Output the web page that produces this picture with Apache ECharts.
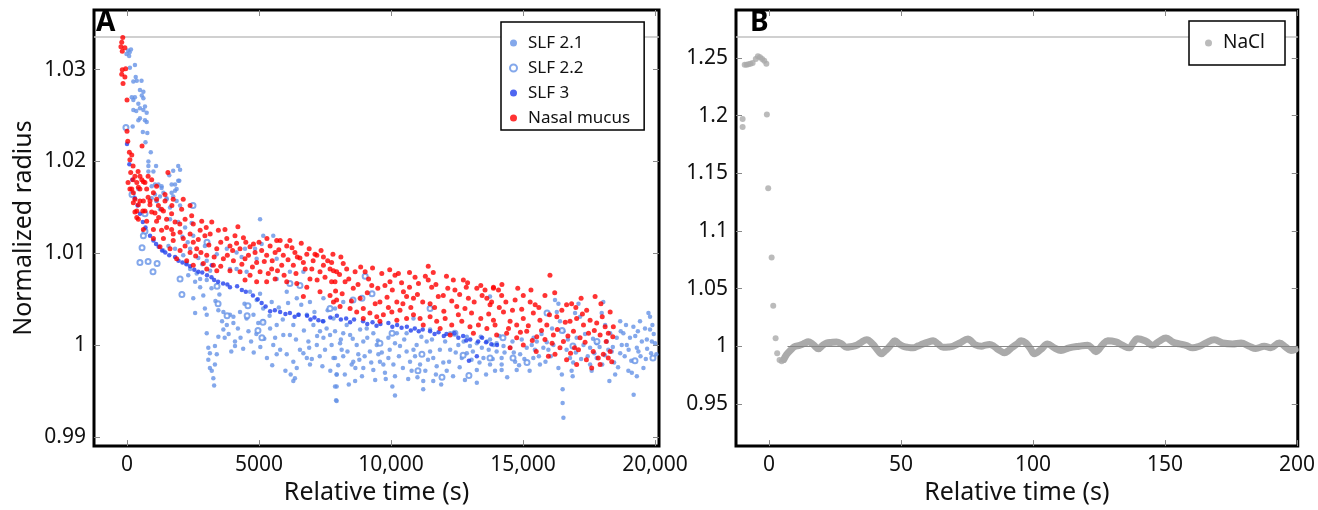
<!DOCTYPE html>
<html><head><meta charset="utf-8">
<script src="https://cdn.jsdelivr.net/npm/echarts@6/dist/echarts.min.js"></script>
<style>html,body{margin:0;padding:0;background:#fff}#c{width:1318px;height:510px}</style>
</head><body><div id="c"></div>
<script>
// ---------- Panel A data: [relative time (s), normalized radius] ----------
const slf21 = [
[40,1.0321],[100,1.0319],[-20,1.0317],[80,1.0315],[110,1.0302],[330,1.0292],[240,1.0287],[370,1.0288],[490,1.0278],[620,1.0276],[560,1.0272],[180,1.027],[300,1.027],[240,1.0267],[620,1.0269],[430,1.0263],[680,1.026],[490,1.0258],[240,1.0256],[620,1.0256],[745,1.0253],[490,1.0247],[680,1.0245],[745,1.0243],[430,1.0245],[215,1.0238],[770,1.0231],[810,1.02],[810,1.0195],[810,1.0189],[1000,1.0189],[1190,1.0175],[1310,1.0173],[1690,1.0166],[1940,1.0195],[2010,1.0191],[1980,1.0179],[1820,1.0175],[1880,1.017],[1750,1.0162],[1380,1.0166],[1500,1.0159],[1120,1.0157],[1250,1.0162],[1060,1.0164],[935,1.0173],[935,1.016],[430,1.017],
[1060,1.0175],[1310,1.0171],[1690,1.0175],[1940,1.0179],[1820,1.0168],[1500,1.016],[1880,1.0157],[1120,1.0157],[1250,1.0148],[1630,1.015],[2010,1.0152],[1630,1.0137],[1940,1.0134],[1380,1.0103],[1570,1.0108],[1820,1.0105],[2130,1.0098],[2260,1.009],[2390,1.0083],[2640,1.0078],[2320,1.0076],[2580,1.0069],[2770,1.0072],[3020,1.0071],[2770,1.0063],[2510,1.0051],[2890,1.0054],[2950,1.004],[3020,1.0033],[2580,1.0035],[3020,1.0013],[3080,0.9997],[3140,0.9991],[3080,0.9984],[3140,0.9975],[3210,0.9972],[3270,0.9964],[3300,0.9956],[3330,0.9999],[3400,0.999],[3330,0.9979],[3460,1.0009],[3650,1.0017],[3780,1.0022],[4030,1.0024],[4090,1.0004],[4090,0.9999],[3900,1.0033],[4030,1.0031],[3650,1.0036],[3460,1.0038],[4280,1.0036],[4530,1.0029],[4790,1.0033],[4970,1.0024],[5160,1.0026],[5040,1.0137],[5420,1.0018],[5670,1.0022],[5610,1.0008],[5920,1.0011],[5540,1.0],[5800,0.9995],[5670,0.999],[6050,0.999],[6300,0.9982],[6430,0.9975],[6360,0.9964],[6300,0.9961],[6680,0.9991],[6810,0.9986],[6930,0.9979],[6870,1.0004],[7190,1.0],[7440,1.0008],[7310,1.0015],[7560,1.0018],[7690,1.0011],[7820,0.9986],[7940,0.9968],[7940,0.9955],[7920,0.994],[7060,1.0022],[7440,1.0026],[6170,1.0011],[6300,1.0022],[6490,1.0033],[6810,1.0033],[5160,1.004],[5480,1.0047],[4910,1.0049],[5040,1.0056],[4660,1.0058],[4340,1.0096],[4470,1.0105],[4910,1.0094],[5100,1.011],[5160,1.0119],[5540,1.0119],[4850,1.0105],[4150,1.0101],[3780,1.0105],[3400,1.0099],[2950,1.0108],[2510,1.0119],[2200,1.0128],[2390,1.0105],[4150,1.0083],[4530,1.008],[3900,1.0083],[3020,1.0092],[5670,1.0094],[6170,1.008],[6680,1.008],[5670,1.0072],[6050,1.0058],[6430,1.0051],[6930,1.0047],[7440,1.0051],[7880,1.004],
[7880,1.0015],[8190,1.0013],[7750,1.0],[8070,1.0002],[8450,1.0011],[8700,1.0],[8950,1.0004],[9330,1.0013],[7880,0.9986],[8190,0.9988],[8570,0.9982],[8510,0.9979],[8950,0.9975],[7940,0.9968],[7880,0.9955],[7940,0.9939],[8640,0.9961],[9330,0.9973],[9520,0.999],[9580,0.9982],[9710,0.9979],[9900,0.9986],[10090,0.9979],[9770,0.997],[10150,0.9966],[10150,0.9945],[9460,1.0],[9900,1.0008],[10220,1.0013],[10340,0.9999],[10590,0.9993],[10720,0.9982],[10780,0.9972],[10910,0.9988],[11100,0.9979],[11220,0.9961],[11220,0.9952],[10970,1.0],[11350,1.0004],[11480,0.9993],[11600,0.9986],[11730,0.9977],[11980,0.9981],[12110,0.9972],[11600,0.9961],[12240,0.9995],[12550,1.0],[12680,0.9986],[12870,0.9991],[12990,0.9999],[13250,1.0002],[13440,0.9997],[13500,0.9986],[13250,0.9973],[13250,0.9959],[13630,1.0004],[13880,1.0],[14000,0.9993],[13750,0.9979],[13940,0.9972],[7820,1.0029],[8320,1.0022],[8190,1.0047],[9080,1.0018],[9200,0.9993],[8130,0.9995],[8760,0.999],[8830,1.0017],[10590,1.0013],[11480,1.0017],[12240,1.0013],[12870,1.0009],[10850,1.0029],
[13750,1.0053],[13750,1.0006],[14000,1.0002],[14260,0.9999],[14190,0.9986],[14190,0.9979],[14190,0.9973],[14700,0.9982],[14760,0.9973],[14890,0.999],[14510,0.9997],[15140,0.9997],[15330,1.0],[15520,1.0004],[15640,0.9979],[15390,0.9986],[15770,0.9997],[15960,0.9995],[16150,1.0],[16210,1.0049],[16340,1.0045],[16280,1.0036],[16400,1.0026],[16530,1.0015],[16340,0.9975],[16470,0.9968],[16500,0.9952],[16500,0.9937],[16530,0.9921],[16780,0.9986],[16840,0.9972],[16880,0.9966],[17100,1.0045],[16970,1.0035],[17160,1.0031],[17030,1.0008],[17290,1.0],[17540,0.9997],[17790,1.0002],[17540,0.9979],[17600,0.9972],[17790,0.9986],[18040,1.0047],[17980,1.0035],[18110,1.0022],[18230,0.9995],[18270,0.9961],[18490,0.9968],[18550,1.0008],[18680,1.0026],[18800,1.0013],[18930,1.0],[19050,1.0008],[19180,1.002],[19310,0.9997],[18990,0.9972],[19120,0.997],[19310,0.9966],[19190,0.9946],[19430,1.0026],[19620,1.0018],[19690,1.0006],[19810,1.0031],[19810,1.0017],[19750,1.0035],[19560,0.9975],[19880,1.0004],[19370,0.9993],[18680,0.9991],[18740,1.0],[18360,0.9993],[18170,1.0004],
[2100,1.0118],[2300,1.0112],[2700,1.0095],[2850,1.0088],[3150,1.0081],[3200,1.0062],[3350,1.0048],[3500,1.0055],[3600,1.0026],[3700,1.0008],[3850,1.0012],[3950,0.9993],[4200,1.0018],[4300,1.0008],[4400,0.9996],[4450,1.0045],[4600,1.0015],[4700,1.0004],[4800,0.9992],[4900,1.0012],[5050,0.9998],[5200,1.0007],[5300,0.9986],[5400,1.0032],[5500,0.9978],[5750,1.0041],[5900,1.0028],[6000,0.9972],[6100,1.0046],[6200,0.9968],[6400,1.0006],[6550,0.9995],[6600,1.0044],[6700,1.0016],[6900,0.9997],[7000,0.9985],[7100,1.0036],[7200,1.001],[7300,0.9988],[7400,0.9977],[7500,0.9995],[7600,1.0038],[7700,0.9972],[8000,0.9978],[8100,1.0006],[8250,0.9968],[8350,0.9993],[8400,0.9957],[8550,1.0007],[8650,0.9975],[8800,0.9984],[8900,0.9966],[9000,0.9988],[9100,1.0008],[9250,0.9981],[9400,0.9962],[9500,1.0005],[9650,0.9992],[9800,0.9963],[9950,0.9995],[10050,0.9955],[10150,1.0002],[10300,0.9988],[10450,0.9975],[10500,1.0006],[10650,0.9963],[10850,0.9995],[11000,0.9965],[11150,1.0009],[11300,0.9972],[11400,0.9984],[11550,1.0006],[11700,0.9968],[11850,0.9995],[11900,0.9957],[12050,1.0004],[12200,0.9982],[12350,0.9966],[12450,0.9992],[12600,0.9976],[12750,1.0004],[12800,0.9962],[13050,0.9984],[13100,0.9993],[13350,0.9981],[13400,1.0009],[13600,0.9968],[13700,0.9995],[13850,0.9985],[14100,1.001],[14300,0.9992],[14400,0.9965],[14600,1.0004],[14650,0.9992],[14850,0.9978],[14950,1.0006],[15050,0.9985],[15250,0.9972],[15400,1.0008],[15450,0.9995],[15600,0.9988],[15700,1.0012],[15850,0.9982],[15900,1.0003],[16050,0.9988],[16100,1.0018],[16650,0.9995],[16700,1.0006],[16900,0.9981],[17000,0.9992],[17200,0.9985],[17350,1.0012],[17450,0.9988],[17650,1.0007],[17700,0.9991],[17900,0.9998],[18000,0.9979],[18100,0.9989],[18300,1.0013],[18400,0.9998],[18450,0.9981],[18600,0.9976],[18700,1.0015],[18850,0.9988],[18900,1.0022],[19000,0.9995],[19100,0.9983],[19250,1.001],[19350,1.0015],[19450,0.9988],[19500,1.0004],[19650,0.9985],[19700,0.9996],[19850,0.9991],[19950,1.0012],[20000,1.0002],[19900,1.0022],[20050,0.999],[2450,1.0133],[1600,1.0185],[1750,1.019],[1100,1.0195],[900,1.021],[600,1.0232],[700,1.0221],[350,1.0255],[550,1.0288],[300,1.0305],[150,1.0322]
];
const slf22 = [
[-40,1.0237],[190,1.0164],[680,1.0143],[680,1.0124],[570,1.0106],[490,1.009],[800,1.0091],[985,1.008],[1140,1.0089],[620,1.0119],[2010,1.0072],[2080,1.0055],[2500,1.0152],[3030,1.0112],[3410,1.0064],[3450,1.0045],[3790,1.0032],[4580,1.0043],[4550,1.0032],[4960,1.0016],[5110,1.0008],[5150,1.0025],[6170,1.0067],[6550,1.0065],[7690,1.004],[9020,1.0075],[8900,1.0051],[9280,1.0056],[8560,1.0049],[9580,1.0002],[10040,1.0013],[11170,0.999],[11020,0.9972],[11930,0.9965],[12420,1.0013],[12730,0.9989],[12950,0.9967],[13750,0.9986],[11480,1.004],[15910,1.0035],[15150,0.9981],[14620,0.9986],[16480,1.0016],[16890,0.9999],[17800,1.0004],[19240,0.9983],[19920,0.9986],[14240,1.0008]
];
const slf3 = [
[0,1.0219],[90,1.0197],[200,1.018],[300,1.016],[400,1.0152],[490,1.0143],[600,1.0134],[700,1.0128],[870,1.0119],[1000,1.0114],[1100,1.011],[1200,1.0107],[1330,1.0103],[1450,1.0101],[1600,1.0098],[1820,1.0096],[1950,1.0092],[2100,1.009],[2250,1.0088],[2390,1.0086],[2550,1.0082],[2700,1.008],[2850,1.0079],[3030,1.0076],[3210,1.0087],[3200,1.0074],[3300,1.0071],[3450,1.0069],[3640,1.0067],[3800,1.0066],[3900,1.0063],[4170,1.0064],[4350,1.006],[4500,1.0058],[4770,1.0054],[4950,1.005],[5100,1.0046],[5250,1.0042],[5420,1.0037],[5600,1.0038],[5800,1.0036],[6000,1.0034],[6170,1.0035],[6350,1.0031],[6500,1.0033],[6820,1.0032],[6950,1.0028],[7100,1.003],[7250,1.0027],[7420,1.0026],[7700,1.003],[7950,1.0032],[8100,1.0028],[8300,1.0029],[8450,1.0025],[8600,1.0028],[8940,1.0026],[9100,1.0023],[9300,1.0025],[9450,1.0021],[9600,1.0023],[9900,1.0024],[10050,1.002],[10230,1.0022],[10400,1.0019],[10600,1.002],[10750,1.0016],[10900,1.0018],[11050,1.0015],[11200,1.0017],[11480,1.0015],[11650,1.0012],[11800,1.0014],[12000,1.001],[12100,1.0012],[12400,1.0013],[12550,1.0008],[12730,1.001],[12850,1.0005],[13000,1.0006],[13300,1.0004],[13450,1.0008],[13600,1.0003],[13800,1.0001],[14015,1.0],[12950,0.9983],[13250,0.9988]
];
const nasal = [
[-160,1.0335],[-200,1.033],[-230,1.0325],[-80,1.0324],[-180,1.032],[-50,1.0301],[-180,1.030],[-200,1.0295],[-80,1.0292],[-150,1.0285],[0,1.0267],[570,1.0217],[0,1.0233],[30,1.0222],[90,1.021],[180,1.0207],[110,1.0202],[230,1.0195],[140,1.0188],[300,1.0184],[420,1.0189],[1550,1.0188],[370,1.0177],[560,1.018],[680,1.0177],[800,1.0184],[935,1.018],[110,1.017],[240,1.0166],[490,1.017],[745,1.017],[1000,1.0166],[300,1.0159],[430,1.0153],[620,1.0157],[870,1.0157],[1120,1.0159],[1440,1.0164],[300,1.0145],[600,1.0146],[935,1.0145],[1310,1.0148],[370,1.0139],
[40,1.0177],[230,1.018],[490,1.0184],[620,1.0178],[180,1.017],[430,1.0172],[1120,1.0173],[240,1.0155],[490,1.0157],[870,1.0153],[1190,1.0152],[1440,1.0157],[1750,1.0159],[2130,1.0159],[370,1.0146],[680,1.0146],[1060,1.0144],[1380,1.0146],[1690,1.0143],[2070,1.0148],[2390,1.0152],[430,1.0137],[745,1.0135],[1120,1.0135],[1500,1.0137],[1820,1.0134],[2200,1.0137],[2510,1.0132],[2830,1.0135],[620,1.0126],[1000,1.0126],[1310,1.0125],[1690,1.0126],[2010,1.0123],[2390,1.0121],[2770,1.0125],[3210,1.0134],[3710,1.0126],[1000,1.0116],[1380,1.0116],[1750,1.0114],[2130,1.0116],[2510,1.0112],[2950,1.0119],[3150,1.0121],[3460,1.0125],[3780,1.0116],[4090,1.0119],[4410,1.0117],[4790,1.011],[1250,1.0107],[1630,1.0105],[2010,1.0103],[2390,1.0101],[2640,1.0105],[3020,1.0098],[3400,1.0105],[3900,1.0108],[4280,1.0105],[4660,1.0107],[5100,1.0103],[5420,1.0108],[5800,1.0114],[6170,1.0114],[1880,1.0094],[2260,1.0092],[2890,1.0089],[3270,1.0087],[3650,1.0094],[4030,1.0092],[4470,1.0094],[4910,1.009],[5290,1.0098],[5610,1.0101],[5920,1.0098],[6360,1.0101],[6810,1.0099],[7190,1.0098],[2510,1.0087],[3020,1.0083],[3400,1.0081],[3900,1.0081],[4280,1.008],[4660,1.0076],[5040,1.008],[5480,1.0083],[5860,1.0087],[6300,1.0087],[6680,1.009],[7000,1.0083],[7440,1.0087],[7690,1.0083],[4470,1.0071],[4910,1.0069],[5290,1.0069],[5610,1.0072],[6050,1.0069],[6430,1.0067],[6810,1.0063],[7310,1.0058],[7690,1.0054],[7940,1.0049],[6680,1.0053],[6930,1.0072],[7310,1.008],[7750,1.0069],[6050,1.0108],[5670,1.0114],[7120,1.0099],[7440,1.0096],[7820,1.0081],
[7750,1.009],[8190,1.0089],[7940,1.008],[8320,1.0083],[8640,1.008],[7880,1.0069],[8260,1.0069],[8570,1.0062],[9020,1.008],[9270,1.0065],[9650,1.0078],[9770,1.0065],[10150,1.0076],[10280,1.0078],[9960,1.0069],[10470,1.0058],[10590,1.0053],[10910,1.0074],[11040,1.0067],[11410,1.0086],[11410,1.0071],[11540,1.0063],[11790,1.0053],[11980,1.0054],[12360,1.0071],[12740,1.0071],[12420,1.006],[12930,1.0051],[13250,1.0062],[13560,1.006],[13880,1.0062],[13630,1.0051],[12490,1.0042],[12800,1.004],[13750,1.0044],[7820,1.0047],[8070,1.0042],[8450,1.004],[8700,1.0036],[8950,1.004],[9200,1.0035],[9460,1.0031],[9710,1.0033],[10030,1.0036],[10340,1.0038],[10590,1.0029],[10850,1.0033],[11100,1.0029],[11480,1.0031],[11730,1.0026],[12050,1.0029],[12300,1.0022],[12680,1.0026],[12990,1.002],[13310,1.0022],[13630,1.0018],[13940,1.0022],[12240,1.0011],[13120,1.0013],[8950,1.0029],[9580,1.0026],[10220,1.0027],[11220,1.0022],[11860,1.0018],[10220,1.0047],[10850,1.0051],[11480,1.0045],[9580,1.0047],[8830,1.0051],
[13880,1.0063],[14070,1.006],[14190,1.0054],[13810,1.0047],[14700,1.0049],[15010,1.0054],[15270,1.0047],[15830,1.0054],[16020,1.0076],[15460,1.0044],[16650,1.0044],[16840,1.0045],[17410,1.0038],[17730,1.0053],[13880,1.0027],[14260,1.0036],[14510,1.0026],[14760,1.0022],[15010,1.0029],[15390,1.0035],[15640,1.0027],[15900,1.0022],[16280,1.0031],[16470,1.0038],[16780,1.0026],[17030,1.0029],[17290,1.0022],[17540,1.0027],[17790,1.0024],[18110,1.002],[18420,1.002],[14000,1.0011],[14380,1.0013],[14760,1.0008],[15140,1.0015],[15520,1.0009],[15830,1.0006],[16150,1.0011],[16530,1.0004],[16910,1.0015],[17160,1.0008],[17480,1.0013],[17920,1.0011],[18230,1.0013],[15960,0.9988],[16210,0.999],[16650,0.9984],[17030,0.9979],[17600,0.9975],[17920,0.9979],[18230,0.9986],[18360,0.9982],[17100,0.9995],[17660,0.9993],[18040,0.999],[16400,0.9997],[15010,1.0],[14510,0.9997],
[1500,1.0128],[1750,1.0121],[2200,1.0108],[2600,1.0097],[2700,1.0115],[3100,1.0109],[3300,1.0096],[3550,1.0112],[3550,1.0086],[3800,1.0098],[4000,1.0103],[4150,1.0111],[4350,1.0088],[4600,1.0098],[4750,1.0085],[4850,1.0101],[5000,1.0112],[5200,1.0091],[5350,1.0078],[5500,1.0092],[5700,1.0081],[5750,1.0104],[5950,1.0076],[6100,1.0093],[6250,1.0106],[6400,1.0078],[6550,1.0095],[6600,1.0111],[6750,1.0083],[6900,1.0105],[7050,1.0092],[7200,1.0071],[7350,1.0103],[7500,1.0074],[7600,1.0092],[7900,1.0059],[8050,1.0077],[8150,1.0056],[8400,1.0072],[8500,1.0048],[8750,1.0066],[8850,1.0085],[9100,1.0057],[9150,1.0072],[9400,1.0045],[9500,1.0062],[9850,1.0052],[9900,1.0041],[10050,1.006],[10400,1.0068],[10450,1.0045],[10700,1.0063],[10750,1.0041],[11000,1.0055],[11200,1.0047],[11300,1.0075],[11650,1.0041],[11700,1.0066],[12000,1.0037],[12150,1.0062],[12300,1.0048],[12550,1.0033],[12600,1.0055],[12850,1.0063],[13050,1.0035],[13150,1.0047],[13400,1.0029],[13450,1.0054],[13700,1.0034],[14100,1.0041],[14350,1.0047],[14450,1.0018],[14600,1.0038],[14900,1.0014],[14950,1.0039],[15200,1.0021],[15350,1.0005],[15600,1.0041],[15700,1.0016],[16000,1.0033],[16100,1.0002],[16300,1.0017],[16600,1.0025],[16700,1.001],[16950,0.9997],[17000,1.0041],[17250,1.0034],[17350,1.0003],[17700,1.0016],[17850,0.9986],[18000,1.0031],[18150,1.0004],[18300,0.9993],[18400,1.0009],[15500,0.9993],[16800,0.9991],[17400,0.9984],[2800,1.0101],[2000,1.0132],[1200,1.0139],[800,1.0161],[1700,1.0152],[2450,1.0141],[3000,1.0128],[4200,1.0129],[4500,1.0112],[5300,1.0116],[6450,1.0096],[7800,1.0099],[8100,1.0096],[9300,1.0084],[9950,1.0082],[10700,1.0079],[11600,1.0079],[12100,1.0075],[12900,1.0068],[13400,1.0065],[14200,1.0066],[14800,1.0062],[15300,1.006],[16200,1.0057],[17200,1.0051],[18300,1.0036],[17950,1.0045]
];
// ---------- Panel B data ----------
const naclTransient = [
[-10,1.197],[-10,1.19],[-9.2,1.244],[-8.5,1.244],[-7.8,1.2445],[-7,1.245],[-6.2,1.2455],[-5,1.249],[-4.2,1.2515],[-3.4,1.2505],[-2.6,1.249],[-1.8,1.2475],[-1,1.245],[-0.8,1.201],[-0.3,1.137],[1,1.077],[1.6,1.035],[2.5,1.007],[3.1,0.994],[4.0,0.988],[4.8,0.987]
];
const naclPlateau = [
[5.6,0.9885],[6.7,0.993],[8.6,0.9975],[9.5,0.9994],[11.7,1.0008],[13.5,1.0025],[14.9,1.0038],[16.2,1.0025],[17.4,1.0],[18.7,0.9977],[20.2,1.0005],[21.8,1.0028],[23.5,1.0033],[25.6,1.0037],[27.5,1.002],[29.4,0.9991],[31.3,0.9998],[33.2,1.0008],[35,1.0035],[37,1.0057],[39.5,1.0014],[41,0.997],[42.6,0.9935],[44,0.996],[45.2,0.9986],[46.5,1.002],[47.7,1.0048],[49.2,1.002],[50.8,1.0],[52.7,0.999],[54.6,0.9986],[56.5,1.0003],[58.4,1.002],[60.3,1.0035],[62.2,1.0048],[64,1.002],[66,0.9991],[68,0.9993],[69.7,1.0],[72.3,1.0028],[75.4,1.0062],[76.8,1.004],[78,1.0014],[80.5,1.0],[82,1.001],[83.6,1.0014],[85.2,1.0],[86.8,0.9972],[89.3,0.9943],[90.6,0.996],[91.9,0.9986],[94.4,1.0028],[95.5,1.0048],[97.3,1.0028],[99,0.998],[100.5,0.9935],[103,0.9972],[105.5,1.002],[108.1,0.9986],[110.6,0.9963],[113.7,0.9986],[117.5,1.0],[120.7,1.0008],[122.5,0.998],[123.8,0.9952],[126.4,1.0014],[128.3,1.0048],[131.4,1.0037],[133.9,1.0008],[136.5,0.9986],[138,1.003],[139.6,1.0065],[142.8,1.0043],[145.3,1.0008],[147.8,1.0043],[150.4,1.0071],[152.9,1.0037],[155.4,1.002],[157.9,1.0008],[160.5,0.9986],[163,1.0],[165.5,1.0028],[168.7,1.0057],[171.8,1.0028],[175.6,1.002],[178.8,1.0028],[181.9,1.0],[184.4,0.998],[187.6,1.0],[190.1,0.9986],[193.3,1.0028],[195.8,0.9991],[197.7,0.9963],[199.3,0.9972]
];
// ---------- Ticks & labels ----------
const aXTicks = [0,5000,10000,15000,20000];
const aXLabels = ['0','5000','10,000','15,000','20,000'];
const aYTicks = [0.99,1,1.01,1.02,1.03];
const aYLabels = ['0.99','1','1.01','1.02','1.03'];
const bXTicks = [0,50,100,150,200];
const bXLabels = ['0','50','100','150','200'];
const bYTicks = [0.95,1,1.05,1.1,1.15,1.2,1.25];
const bYLabels = ['0.95','1','1.05','1.1','1.15','1.2','1.25'];
const refLineA = 1.0336;
const refLineB = 1.2683;
const baseLineB = [[7,1],[200.3,1]];

const FONT = 'Noto Sans';
function lab(ticks, labels){
  return v => { const i = ticks.findIndex(t => Math.abs(t - v) < 1e-7); return i < 0 ? '' : labels[i]; };
}
const tickStyle = {color:'#888', width:1};
function xAx(grid, min, max, ticks, labels, pos, show){
  return {gridIndex:grid, type:'value', min:min, max:max, position:pos,
    axisLine:{show:false, onZero:false},
    axisTick:{show:true, inside:true, length:6, lineStyle:tickStyle, customValues:ticks},
    axisLabel:{show:show, customValues:ticks, formatter:lab(ticks,labels), fontSize:21, color:'#111', margin:8, fontFamily:FONT},
    splitLine:{show:false},
    name: show ? 'Relative time (s)' : '', nameLocation:'middle', nameGap:31,
    nameTextStyle:{fontSize:25, color:'#111', fontFamily:FONT}};
}
function yAx(grid, min, max, ticks, labels, pos, show, name){
  return {gridIndex:grid, type:'value', min:min, max:max, position:pos,
    axisLine:{show:false, onZero:false},
    axisTick:{show:true, inside:true, length:6, lineStyle:tickStyle, customValues:ticks},
    axisLabel:{show:show, customValues:ticks, formatter:lab(ticks,labels), fontSize:21, color:'#111', margin:8, fontFamily:FONT},
    splitLine:{show:false},
    name: name || '', nameLocation:'middle', nameGap:58,
    nameTextStyle:{fontSize:25, color:'#111', fontFamily:FONT}};
}
const chart = echarts.init(document.getElementById('c'), null, {renderer:'canvas'});
const legendCommon = {orient:'vertical', backgroundColor:'#fff', borderColor:'#000', borderWidth:1.5,
  itemWidth:7, itemHeight:7, itemGap:5, selectedMode:false, inactiveColor:'#000', z:50, zlevel:0};
const mlBase = {silent:true, symbol:'none', precision:6, label:{show:false}};
chart.setOption({
  animation:false,
  textStyle:{fontFamily:FONT},
  title:[
    {text:'A', left:96, top:9, padding:0, z:60, textStyle:{fontSize:28, fontWeight:'bold', color:'#000', fontFamily:FONT}},
    {text:'B', left:750, top:9, padding:0, z:60, textStyle:{fontSize:28, fontWeight:'bold', color:'#000', fontFamily:FONT}}
  ],
  grid:[
    {left:94, top:10, width:565, height:441, show:true, borderColor:'#000', borderWidth:3, backgroundColor:'transparent'},
    {left:736, top:10, width:564, height:441, show:true, borderColor:'#000', borderWidth:3, backgroundColor:'transparent'}
  ],
  xAxis:[
    xAx(0,-1250,20150,aXTicks,aXLabels,'bottom',true),
    xAx(0,-1250,20150,aXTicks,aXLabels,'top',false),
    xAx(1,-12.5,200.3,bXTicks,bXLabels,'bottom',true),
    xAx(1,-12.5,200.3,bXTicks,bXLabels,'top',false)
  ],
  yAxis:[
    yAx(0,0.989,1.0365,aYTicks,aYLabels,'left',true,'Normalized radius'),
    yAx(0,0.989,1.0365,aYTicks,aYLabels,'right',false),
    yAx(1,0.9134,1.2915,bYTicks,bYLabels,'left',true),
    yAx(1,0.9134,1.2915,bYTicks,bYLabels,'right',false)
  ],
  legend:[
    Object.assign({}, legendCommon, {left:501, top:22, padding:[11,14,2,8],
      data:['SLF 2.1','SLF 2.2','SLF 3','Nasal mucus'],
      textStyle:{fontSize:17, color:'#111', lineHeight:20, padding:[0,0,0,6], fontFamily:FONT}}),
    Object.assign({}, legendCommon, {left:1189, top:21, padding:[11,20,11,16],
      data:[{name:'NaCl', icon:'circle'}],
      textStyle:{fontSize:19, color:'#111', lineHeight:22, padding:[0,0,0,6], fontFamily:FONT}})
  ],
  series:[
    {type:'scatter', name:'SLF 2.1', xAxisIndex:0, yAxisIndex:0, data:slf21, symbolSize:4.5, z:2,
      itemStyle:{color:'#6592e6'},
      markLine:Object.assign({}, mlBase, {z:1, lineStyle:{color:'#c0c0c0', width:1.5, type:'solid'}, data:[{yAxis:refLineA}]})},
    {type:'scatter', name:'SLF 2.2', xAxisIndex:0, yAxisIndex:0, data:slf22, symbol:'emptyCircle', symbolSize:5, z:2,
      itemStyle:{color:'#6592e6', borderColor:'#5a88e6', borderWidth:1}},
    {type:'scatter', name:'SLF 3', xAxisIndex:0, yAxisIndex:0, data:slf3, symbolSize:4.5, z:2,
      itemStyle:{color:'#2240ee'}},
    {type:'scatter', name:'Nasal mucus', xAxisIndex:0, yAxisIndex:0, data:nasal, symbolSize:5, z:2,
      itemStyle:{color:'#ff0000'}},
    {type:'scatter', name:'NaCl', xAxisIndex:2, yAxisIndex:2, data:naclTransient, symbolSize:6, z:2,
      itemStyle:{color:'#aaaaaa'},
      markLine:Object.assign({}, mlBase, {z:1, lineStyle:{color:'#c0c0c0', width:1.5, type:'solid'}, data:[{yAxis:refLineB}]})},
    {type:'line', name:'NaCl', xAxisIndex:2, yAxisIndex:2, data:naclPlateau, showSymbol:false, smooth:0.4, z:2,
      lineStyle:{color:'#aaaaaa', width:7, cap:'round', join:'round'}, itemStyle:{color:'#aaaaaa'},
      markLine:Object.assign({}, mlBase, {z:10, lineStyle:{color:'#888', width:1, type:'solid'},
        data:[[{coord:baseLineB[0]},{coord:baseLineB[1]}]]})}
  ]
});
</script></body></html>
